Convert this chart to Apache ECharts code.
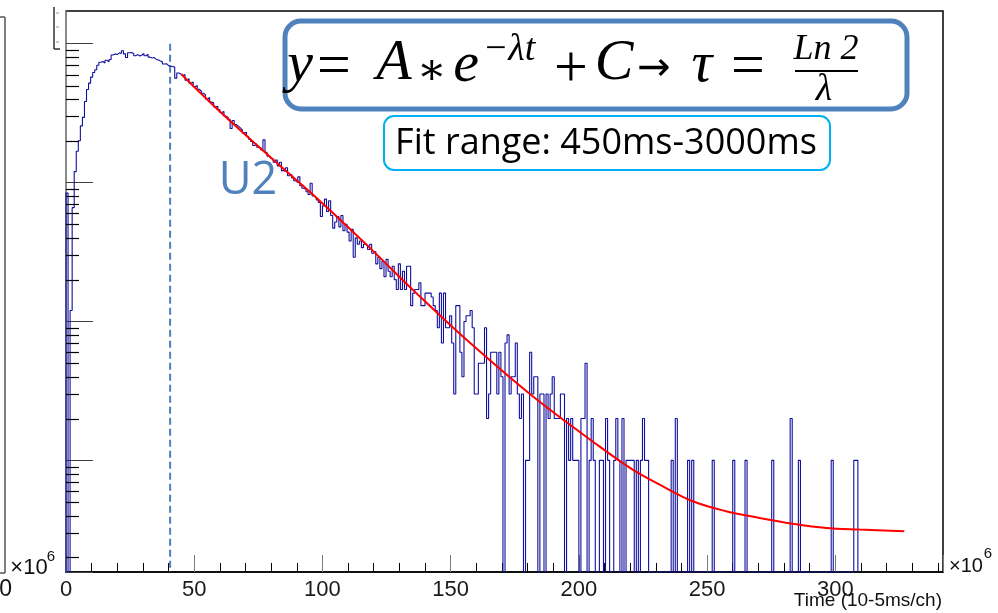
<!DOCTYPE html>
<html>
<head>
<meta charset="utf-8">
<script src="https://cdn.jsdelivr.net/npm/echarts@6/dist/echarts.min.js"></script>
<style>
  html, body { margin: 0; padding: 0; background: #fff; }
  #chart { width: 998px; height: 613px; }
</style>
</head>
<body>
<div id="chart"></div>
<script>
// counts per bin, bins are 0.8 wide starting at t = 0 (x axis in 10^6 units)
const binWidth = 0.8;
const counts = [
  // 0
  84, 0, 12, 66, 120, 168, 200, 256, 295, 384,
  468, 520, 575, 620, 650, 700, 735, 745, 725, 760,
  // 20
  740, 770, 830, 845, 835, 860, 850, 890, 845, 795,
  860, 865, 850, 820, 835, 815, 830, 850, 820, 840,
  // 40
  800, 790, 795, 770, 765, 750, 740, 715, 718, 695,
  690, 685, 678, 565, 615, 605, 590, 600, 545, 560,
  // 60
  520, 530, 490, 500, 470, 455, 440, 430, 400, 410,
  380, 375, 350, 355, 335, 320, 325, 300, 295, 285,
  // 80
  245, 280, 262, 255, 248, 240, 228, 230, 215, 205,
  198, 185, 190, 180, 178, 172, 203, 165, 155, 150,
  // 100
  148, 140, 145, 132, 140, 122, 120, 128, 112, 115,
  108, 103, 100, 110, 95, 91, 89, 86, 82, 99,
  // 120
  80, 78, 75, 72, 57, 68, 76, 62, 74, 58,
  47, 52, 57, 48, 58, 45, 50, 44, 38, 46,
  // 140
  29, 40, 36, 38, 34, 36, 35, 33, 36, 31,
  32, 26, 29, 24, 27, 21, 28, 23, 21, 25,
  // 160
  20, 17, 26, 17, 23, 17, 25, 25, 13, 16,
  17, 17, 19, 13, 13, 16, 16, 16, 15, 13,
  // 180
  12, 9, 16, 7, 16, 9, 9, 11, 7, 3,
  13, 13, 6, 4, 10, 11, 11, 12, 9, 3,
  // 200
  3, 5, 5, 5, 9, 2, 3, 6, 6, 6,
  3, 6, 4, 0, 7, 8, 3, 4, 4, 7,
  // 220
  3, 2, 3, 0, 1, 1, 6, 3, 4, 4,
  0, 3, 3, 0, 3, 2, 3, 4, 2, 2,
  // 240
  2, 3, 3, 0, 2, 1, 2, 1, 1, 1,
  0, 2, 2, 5, 0, 1, 2, 1, 0, 0,
  // 260
  1, 1, 0, 2, 1, 0, 0, 1, 2, 1,
  0, 2, 0, 1, 1, 1, 1, 0, 1, 0,
  // 280
  1, 2, 1, 1, 0, 0, 0, 0, 0, 0,
  0, 0, 0, 0, 0, 1, 0, 2, 0, 0,
  // 300
  0, 0, 0, 1, 0, 1, 0, 0, 0, 0,
  0, 0, 0, 0, 0, 1, 0, 0, 0, 0,
  // 320
  0, 0, 0, 0, 0, 1, 0, 0, 0, 0,
  0, 1, 0, 0, 0, 0, 0, 0, 0, 0,
  // 340
  0, 0, 0, 0, 1, 0, 0, 0, 0, 0,
  0, 0, 0, 2, 0, 0, 0, 1, 0, 0,
  // 360
  0, 0, 0, 0, 0, 0, 0, 0, 0, 0,
  0, 0, 0, 1, 0, 0, 0, 0, 0, 0,
  // 380
  0, 0, 0, 0, 1, 1
];

// red fit curve
const fitT = [45, 60, 79.4, 98.9, 118.4, 136.6, 156.1, 182, 208, 221, 231.4, 244.4, 257.4, 270.4, 283.4, 296.4, 309.4, 326.9];
const fitV = [603, 325, 154, 74, 34, 16, 7.4, 2.89, 1.26, 0.857, 0.67, 0.507, 0.43, 0.385, 0.35, 0.326, 0.317, 0.308];

// dashed marker line
const cutT = 40.6;
const cutTop = 1000;

const xMin = 0, xMax = 342, xStep = 50;
const yMin = 0.157, yMax = 1720;
const yDecades = [0.1, 1, 10, 100];
const yMinorMult = [2, 3, 4, 5, 6, 7, 8, 9];

const histData = [[0, yMin]];
counts.forEach((v, k) => histData.push([k * binWidth, v > 0 ? v : yMin]));
histData.push([counts.length * binWidth, yMin]);

const fitData = fitT.map((t, i) => [t, fitV[i]]);

const yMinorTicks = [];
yDecades.forEach(d => yMinorMult.forEach(m => {
  const v = d * m;
  if (v > yMin && v < yMax) yMinorTicks.push([xMin, v]);
}));

const serif = "'Liberation Serif', 'DejaVu Serif', serif";
const sans = "'Liberation Sans', Arial, sans-serif";
const steel = '#4f81bd';

function txt(text, x, y, font, fill, align) {
  return {
    type: 'text', silent: true, z: 50,
    style: { text: text, x: x, y: y, font: font, fill: fill || '#000', textAlign: align || 'center', textVerticalAlign: 'middle' }
  };
}
function seg(x1, y1, x2, y2, color, w) {
  return { type: 'line', silent: true, z: 50, shape: { x1, y1, x2, y2 }, style: { stroke: color, lineWidth: w } };
}

const chart = echarts.init(document.getElementById('chart'), null, { renderer: 'canvas' });
chart.setOption({
  animation: false,
  backgroundColor: '#fff',
  grid: { left: 66, right: 55, top: 11, bottom: 41, show: true, borderColor: '#000', borderWidth: 1.5, backgroundColor: 'transparent' },
  xAxis: {
    type: 'value', min: xMin, max: xMax, interval: xStep,
    axisLine: { lineStyle: { color: '#000', width: 1.5 } },
    axisTick: { inside: true, length: 17, lineStyle: { color: '#7a7a7a', width: 1 } },
    minorTick: { show: true, splitNumber: 5, length: 9, lineStyle: { color: '#000', width: 1 } },
    axisLabel: { fontSize: 22, fontFamily: sans, color: '#1a1a1a', margin: 7, showMaxLabel: false },
    splitLine: { show: false }
  },
  yAxis: {
    type: 'log', logBase: 10, min: yMin, max: yMax,
    axisLine: { show: true, lineStyle: { color: '#8a8a8a', width: 2 } },
    axisTick: { inside: true, length: 27, lineStyle: { color: '#404040', width: 1 } },
    axisLabel: { show: false },
    splitLine: { show: false }
  },
  series: [
    {
      type: 'custom', silent: true, z: 4, clip: false,
      data: yMinorTicks,
      renderItem: function (params, api) {
        const p = api.coord([api.value(0), api.value(1)]);
        const y = Math.round(p[1]) + 0.5;
        return { type: 'line', shape: { x1: p[0], y1: y, x2: p[0] + 13, y2: y }, style: { stroke: '#000', lineWidth: 1.2 } };
      }
    },
    {
      type: 'line', step: 'end', data: histData, showSymbol: false, silent: true, z: 3,
      lineStyle: { color: '#10109e', width: 1.1 }
    },
    {
      type: 'line', data: [[cutT, cutTop], [cutT, yMin]], showSymbol: false, silent: true, z: 2,
      lineStyle: { color: steel, width: 2, type: [7, 4] }
    },
    {
      type: 'line', data: fitData, smooth: 0.35, showSymbol: false, silent: true, z: 6,
      lineStyle: { color: '#ff0000', width: 2 }
    }
  ],
  graphic: [
    // formula box
    { type: 'rect', silent: true, z: 40, shape: { x: 285, y: 21, width: 622, height: 88, r: 16 },
      style: { fill: '#fff', stroke: steel, lineWidth: 5 } },
    txt('y', 300, 66, 'italic 58px ' + serif),
    txt('=', 334, 68, '60px ' + serif),
    txt('A', 394, 64, 'italic 58px ' + serif),
    txt('\u2217', 432, 72, '44px ' + serif),
    txt('e', 466, 66, 'italic 58px ' + serif),
    txt('\u2212\u03bbt', 509, 50, 'italic 38px ' + serif),
    txt('+', 571, 70, '60px ' + serif),
    txt('C', 614, 64, 'italic 58px ' + serif),
    txt('\u2192', 654, 70, "40px 'DejaVu Sans', sans-serif"),
    txt('\u03c4', 702, 66, 'italic 58px ' + serif),
    txt('=', 748, 68, '60px ' + serif),
    txt('Ln 2', 826, 50, 'italic 36px ' + serif),
    seg(795, 71, 858, 71, '#000', 2),
    txt('\u03bb', 824, 90, 'italic 38px ' + serif),
    // fit range box
    { type: 'rect', silent: true, z: 40, shape: { x: 384, y: 116, width: 446, height: 54, r: 10 },
      style: { fill: '#fff', stroke: '#00b0f0', lineWidth: 2 } },
    txt('Fit range: 450ms-3000ms', 606, 144, "36px 'Open Sans', 'Noto Sans', sans-serif"),
    // label of the curve
    txt('U2', 248, 181, "45px 'Open Sans', 'Noto Sans', sans-serif", steel),
    // axis title and exponent
    txt('Time (10-5ms/ch)', 942, 601, '19px ' + sans, '#111', 'right'),
    txt('\u00d710', 966, 566, '20px ' + sans, '#111'),
    txt('6', 988, 554, '15px ' + sans, '#111'),
    // neighbouring panel, cut at the left edge
    seg(0, 17, 5, 17, '#555', 1.5),
    seg(5, 17, 5, 573, '#555', 1.5),
    seg(0, 573, 5, 573, '#555', 1.5),
    txt('\u00d710', 29, 568, '22px ' + sans, '#111'),
    txt('6', 51, 557, '15px ' + sans, '#111'),
    txt('0', 12, 590, '23px ' + sans, '#111', 'right'),
    // small bracket left of the frame
    seg(54, 7, 54, 49, '#333', 1.5),
    seg(54, 49, 60, 49, '#333', 1.5),
    seg(56, 13, 59, 13, '#999', 1),
    seg(56, 27, 59, 27, '#999', 1),
    seg(56, 42, 59, 42, '#999', 1)
  ]
});
</script>
</body>
</html>
